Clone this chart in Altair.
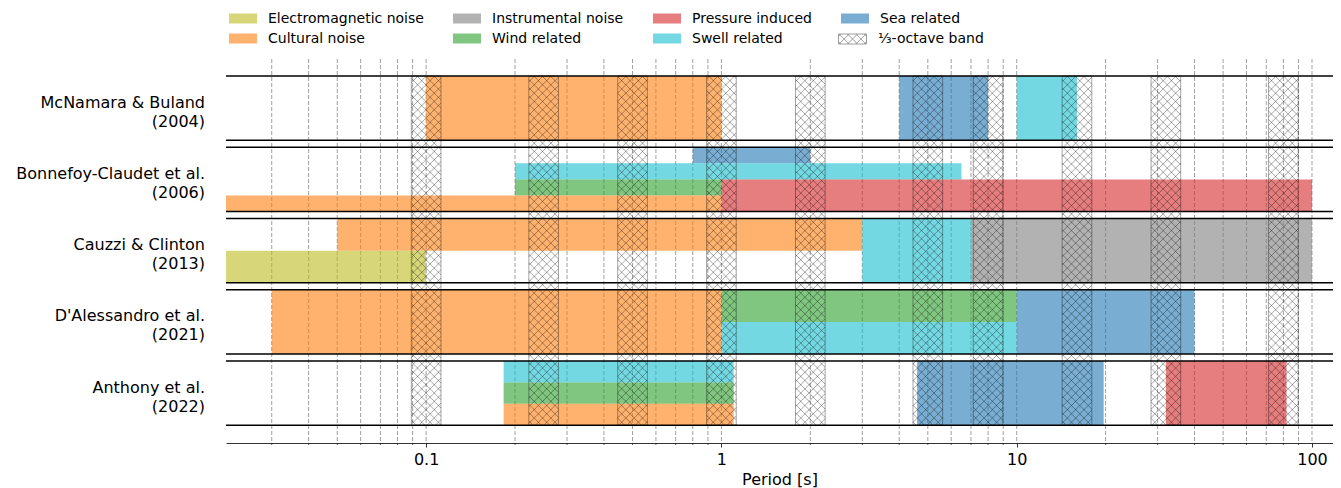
import math
import altair as alt
import pandas as pd

# ---------------- data ----------------
studies = ["McNamara & Buland", "Bonnefoy-Claudet et al.", "Cauzzi & Clinton",
           "D'Alessandro et al.", "Anthony et al."]
years = ["2004", "2006", "2013", "2021", "2022"]

bar_study = [0, 0, 0,
             1, 1, 1, 1, 1,
             2, 2, 2, 2,
             3, 3, 3, 3,
             4, 4, 4, 4, 4]
bar_source = ["Cultural noise", "Sea related", "Swell related",
              "Sea related", "Swell related", "Wind related", "Cultural noise", "Pressure induced",
              "Cultural noise", "Electromagnetic noise", "Swell related", "Instrumental noise",
              "Cultural noise", "Wind related", "Swell related", "Sea related",
              "Swell related", "Wind related", "Cultural noise", "Sea related", "Pressure induced"]
bar_start = [0.1, 4, 10,
             0.8, 0.2, 0.2, 0.02, 1,
             0.05, 0.02, 3, 7,
             0.03, 1, 1, 10,
             0.183, 0.183, 0.183, 4.6, 32]
bar_end = [1, 8, 16,
           2, 6.5, 1, 1, 100,
           3, 0.1, 7, 100,
           1, 10, 10, 40,
           1.1, 1.1, 1.1, 19.7, 82]
# vertical extent of each bar inside its panel (0 = panel bottom, 1 = panel top)
bar_lo = [0, 0, 0,
          0.75, 0.5, 0.25, 0, 0,
          0.5, 0, 0, 0,
          0, 0.5, 0, 0,
          2 / 3, 1 / 3, 0, 0, 0]
bar_hi = [1, 1, 1,
          1, 0.75, 0.5, 0.25, 0.5,
          1, 0.5, 1, 1,
          1, 1, 0.5, 1,
          1, 2 / 3, 1 / 3, 1, 1]

band_centres = [0.1, 0.25, 0.5, 1, 2, 5, 8, 16, 32, 80]
band_label = "\u2153-octave band"

legend_order = ["Electromagnetic noise", "Cultural noise", "Instrumental noise", "Wind related",
                "Pressure induced", "Swell related", "Sea related"]
legend_colors = ["#bcbd22", "#ff7f0e", "#7f7f7f", "#2ca02c",
                 "#d62728", "#17becf", "#1f77b4"]

grid_decades = [0.01, 0.1, 1, 10, 100]
grid_multiples = [1, 2, 3, 4, 5, 6, 7, 8, 9]
major_ticks = [0.1, 1, 10, 100]

# ---------------- layout constants ----------------
W, H = 1107, 384
XMIN, XMAX = 0.021, 117.8
YMIN, YMAX = -0.25, 5.14
PANEL_H = 0.9
N = len(studies)
TOP = N - 1 + PANEL_H
HATCH_SP = 8.33
FONT = "DejaVu Sans"

xscale = alt.Scale(type="log", domain=[XMIN, XMAX], nice=False)
yscale = alt.Scale(domain=[YMIN, YMAX], nice=False, zero=False)
xaxis = alt.Axis(values=major_ticks, format="~g", title="Period [s]", grid=False,
                 tickSize=4, tickColor="black", tickWidth=0.8,
                 domainColor="black", domainWidth=0.8,
                 labelFontSize=16, labelColor="black", labelPadding=4, labelFont=FONT,
                 titleFontSize=16, titleFontWeight="normal", titleColor="black",
                 titlePadding=4, titleFont=FONT, labelFlush=False)

# ---------------- tables ----------------
bars = pd.DataFrame({
    "study": [studies[i] for i in bar_study],
    "source": bar_source,
    "start": bar_start,
    "end": bar_end,
    "y": [(N - 1 - s) + PANEL_H * lo for s, lo in zip(bar_study, bar_lo)],
    "y2": [(N - 1 - s) + PANEL_H * hi for s, hi in zip(bar_study, bar_hi)],
})

grid_vals = [round(d * m, 6) for d in grid_decades for m in grid_multiples
             if XMIN <= d * m <= XMAX]
grid = pd.DataFrame({"v": grid_vals})
minor = pd.DataFrame({"v": [v for v in grid_vals if v not in major_ticks]})

bands = pd.DataFrame({
    "lo": [c * 2 ** (-1 / 6) for c in band_centres],
    "hi": [c * 2 ** (1 / 6) for c in band_centres],
    "y": [0.0] * len(band_centres),
    "y2": [TOP] * len(band_centres),
})

pxdec = W / math.log10(XMAX / XMIN)
pxy = H / (YMAX - YMIN)


def hatch_segments(x0, x1, y0, y1, s):
    segs = []
    for k in range(math.floor((y0 - x1) / s), math.ceil((y1 - x0) / s) + 1):
        b = k * s
        a0, a1 = max(x0, y0 - b), min(x1, y1 - b)
        if a1 - a0 > 0.3:
            segs.append((a0, a0 + b, a1, a1 + b))
    for k in range(math.floor((y0 + x0) / s), math.ceil((y1 + x1) / s) + 1):
        b = k * s
        a0, a1 = max(x0, b - y1), min(x1, b - y0)
        if a1 - a0 > 0.3:
            segs.append((a0, b - a0, a1, b - a1))
    return segs


def px_x(v):
    return (math.log10(v) - math.log10(XMIN)) * pxdec


def data_x(p):
    return 10 ** (math.log10(XMIN) + p / pxdec)


rows = []
for lo, hi in zip(bands["lo"], bands["hi"]):
    for (ax, ay, bx, by) in hatch_segments(px_x(lo), px_x(hi), (0 - YMIN) * pxy, (TOP - YMIN) * pxy, HATCH_SP):
        rows.append({"x": data_x(ax), "x2": data_x(bx),
                     "y": YMIN + ay / pxy, "y2": YMIN + by / pxy, "lab": band_label})
hatch = pd.DataFrame(rows)

panel_lines = pd.DataFrame({"y": [j for j in range(N)] + [j + PANEL_H for j in range(N)]})

labels = pd.DataFrame({
    "label": [f"{s}\n({y})" for s, y in zip(studies, years)],
    "y": [(N - 1 - i) + PANEL_H / 2 for i in range(N)],
})

# legend symbols (custom paths, scaled by 7 px per unit)
R = 7.0
rect_path = "M-2,-0.7143H2V0.7143H-2Z"
hp = []
for (ax, ay, bx, by) in hatch_segments(-14, 14, -5, 5, HATCH_SP):
    hp.append(f"M{ax / R:.3f},{ay / R:.3f}L{bx / R:.3f},{by / R:.3f}")
hatch_path = rect_path + "".join(hp)

LEG_X, LEG_Y = 10, -47.5

# ---------------- layers ----------------
grid_layer = alt.Chart(grid).mark_rule(color="#a0a0a0", strokeWidth=1, strokeDash=[4, 2]).encode(
    x=alt.X("v:Q", scale=xscale, axis=xaxis),
    y=alt.value(0), y2=alt.value(H),
)

bar_layer = alt.Chart(bars).mark_rect(opacity=0.6, clip=True).encode(
    x=alt.X("start:Q", scale=xscale, axis=xaxis),
    x2="end:Q",
    y=alt.Y("y:Q", scale=yscale, axis=None),
    y2="y2:Q",
    fill=alt.Fill("source:N",
                  scale=alt.Scale(domain=legend_order, range=legend_colors),
                  legend=alt.Legend(title=None, orient="none", legendX=LEG_X, legendY=LEG_Y,
                                    columns=4, columnPadding=29, rowPadding=6, padding=0,
                                    labelFontSize=14, labelFont=FONT, labelColor="black",
                                    labelOffset=18, symbolType=rect_path, symbolSize=196,
                                    symbolStrokeWidth=0, symbolOpacity=0.6)),
)

hatch_layer = alt.Chart(hatch).mark_rule(strokeWidth=1, strokeOpacity=0.35).encode(
    x=alt.X("x:Q", scale=xscale, axis=xaxis), x2="x2:Q",
    y=alt.Y("y:Q", scale=yscale, axis=None), y2="y2:Q",
    stroke=alt.Stroke("lab:N", scale=alt.Scale(domain=[band_label], range=["black"]),
                      legend=alt.Legend(title=None, orient="none", legendX=619, legendY=LEG_Y + 20,
                                        padding=0, labelFontSize=14, labelFont=FONT,
                                        labelColor="black", labelOffset=18,
                                        symbolType=hatch_path, symbolSize=196,
                                        symbolStrokeWidth=1, symbolOpacity=0.38,
                                        symbolFillColor="white")),
)

band_layer = alt.Chart(bands).mark_rect(fill="transparent", stroke="black", strokeOpacity=0.35,
                                         strokeWidth=1).encode(
    x=alt.X("lo:Q", scale=xscale, axis=xaxis), x2="hi:Q",
    y=alt.Y("y:Q", scale=yscale, axis=None), y2="y2:Q",
)

line_layer = alt.Chart(panel_lines).mark_rule(color="black", strokeWidth=1.5).encode(
    y=alt.Y("y:Q", scale=yscale, axis=None),
    x=alt.value(0), x2=alt.value(W),
)

minor_layer = alt.Chart(minor).mark_rule(color="black", strokeWidth=0.6).encode(
    x=alt.X("v:Q", scale=xscale, axis=xaxis),
    y=alt.value(H), y2=alt.value(H + 2),
)

label_layer = alt.Chart(labels).mark_text(align="right", baseline="middle", fontSize=16,
                                          font=FONT, color="black", lineBreak="\n",
                                          lineHeight=19, dy=-5.5).encode(
    x=alt.value(-21),
    y=alt.Y("y:Q", scale=yscale, axis=None),
    text="label:N",
)

chart = alt.layer(grid_layer, bar_layer, hatch_layer, band_layer, line_layer,
                  minor_layer, label_layer).properties(
    width=W, height=H,
    autosize=alt.AutoSizeParams(type="none"),
    padding={"left": 218, "top": 51, "right": 0, "bottom": 45},
).configure(font=FONT).configure_view(stroke="transparent")

chart.save("out.html", embed_options={"renderer": "svg", "actions": False})
